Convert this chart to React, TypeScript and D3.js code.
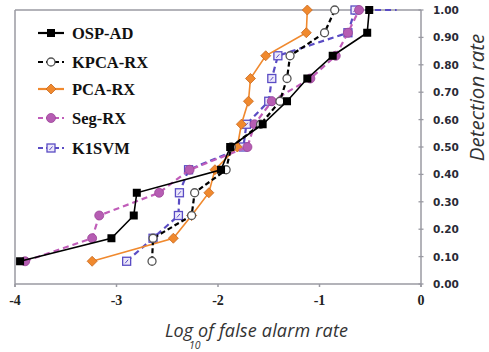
import React from "react";
import * as d3 from "d3";

const W = 489;
const H = 352;

// Detection-rate levels (shared by all detectors)
const detRate = [0.083, 0.167, 0.25, 0.333, 0.417, 0.5, 0.583, 0.667, 0.75, 0.833, 0.917, 1.0];

// log10 false alarm rate per detector
const ospAD = [-3.95, -3.05, -2.83, -2.8, -1.97, -1.88, -1.56, -1.32, -1.12, -0.87, -0.53, -0.51];
const kpcaRX = [-2.65, -2.64, -2.26, -2.23, -1.92, -1.87, -1.58, -1.39, -1.32, -1.29, -0.95, -0.85];
const pcaRX = [-3.24, -2.44, -2.26, -2.09, -2.03, -1.81, -1.77, -1.7, -1.68, -1.53, -1.13, -1.12];
const segRX = [-3.9, -3.24, -3.17, -2.58, -2.28, -1.71, -1.64, -1.47, -1.09, -0.84, -0.72, -0.61];
const k1svm = [-2.9, -2.64, -2.39, -2.38, -2.29, -1.75, -1.72, -1.5, -1.47, -1.41, -0.72, -0.65];
const k1svmTail = [-0.24, 1.0];

const xTicks = [-4, -3, -2, -1, 0];
const yTicks = [0, 0.1, 0.2, 0.3, 0.4, 0.5, 0.6, 0.7, 0.8, 0.9, 1.0];

const legendNames = ["OSP-AD", "KPCA-RX", "PCA-RX", "Seg-RX", "K1SVM"];

type Series = {
  name: string;
  xs: number[];
  color: string;
  dash?: string;
  marker: "square" | "circleOpen" | "diamond" | "circle" | "squareOpen";
  fill: string;
  stroke: string;
};

const series: Series[] = [
  { name: "OSP-AD", xs: ospAD, color: "#000000", marker: "square", fill: "#000000", stroke: "#000000" },
  { name: "KPCA-RX", xs: kpcaRX, color: "#000000", dash: "5,3", marker: "circleOpen", fill: "#ffffff", stroke: "#555555" },
  { name: "PCA-RX", xs: pcaRX, color: "#F0892E", marker: "diamond", fill: "#F0892E", stroke: "#C8681E" },
  { name: "Seg-RX", xs: segRX, color: "#C05DB9", dash: "6,4", marker: "circle", fill: "#B65DB3", stroke: "#9A4497" },
  { name: "K1SVM", xs: k1svm, color: "#5A4CC4", dash: "6,4", marker: "squareOpen", fill: "#ECE8FA", stroke: "#5A4CC4" },
];

function Marker({ s, x, y }: { s: Series; x: number; y: number }) {
  if (s.marker === "square")
    return <rect x={x - 4} y={y - 4} width={8} height={8} fill={s.fill} />;
  if (s.marker === "squareOpen")
    return (
      <g>
        <rect x={x - 4} y={y - 4} width={8} height={8} fill={s.fill} stroke={s.stroke} strokeWidth={1.3} />
        <line x1={x - 1.5} y1={y + 2} x2={x + 1.5} y2={y - 1.5} stroke={s.stroke} strokeWidth={1} />
      </g>
    );
  if (s.marker === "circleOpen")
    return <circle cx={x} cy={y} r={4} fill={s.fill} stroke={s.stroke} strokeWidth={1.3} />;
  if (s.marker === "circle")
    return <circle cx={x} cy={y} r={4.5} fill={s.fill} stroke={s.stroke} strokeWidth={0.8} />;
  return (
    <path
      d={`M${x},${y - 5}L${x + 5},${y}L${x},${y + 5}L${x - 5},${y}Z`}
      fill={s.fill}
      stroke={s.stroke}
      strokeWidth={0.8}
    />
  );
}

export default function App() {
  const x = d3.scaleLinear().domain([-4, 0]).range([15, 421]);
  const y = d3.scaleLinear().domain([0, 1]).range([284, 10]);
  const line = d3
    .line<[number, number]>()
    .x((d) => x(d[0]))
    .y((d) => y(d[1]));

  const drawOrder = [4, 2, 3, 1, 0];
  const legendY = [33, 62, 89, 118, 148];

  return (
    <svg
      width={W}
      height={H}
      style={{ position: "absolute", left: 0, top: 0, background: "#fff" }}
      fontFamily="'Open Sans', sans-serif"
    >
      <rect x={0} y={0} width={W} height={H} fill="#fff" />
      {/* frame */}
      <line x1={x(-4)} y1={y(1)} x2={x(0)} y2={y(1)} stroke="#9a9aa2" strokeWidth={1.5} />
      <line x1={x(-4)} y1={y(1)} x2={x(-4)} y2={y(0) + 3} stroke="#9a9aa2" strokeWidth={1.5} />
      <line x1={x(-4)} y1={y(0)} x2={x(0)} y2={y(0)} stroke="#9a9aa2" strokeWidth={1.5} />
      <line x1={x(0)} y1={y(1)} x2={x(0)} y2={y(0) + 3} stroke="#9a9aa2" strokeWidth={1.5} />
      {xTicks.map((t) => (
        <g key={t}>
          <line x1={x(t)} y1={y(0)} x2={x(t)} y2={y(0) + 3} stroke="#9a9aa2" strokeWidth={1.5} />
          <text
            x={x(t)}
            y={y(0) + 21}
            textAnchor="middle"
            fontFamily="'Liberation Serif', serif"
            fontWeight="bold"
            fontSize={14}
            fill="#222"
          >
            {t === 0 ? "0" : String(t)}
          </text>
        </g>
      ))}
      {yTicks.map((t) => (
        <g key={t}>
          <line x1={x(0) - 2.5} y1={y(t)} x2={x(0) + 2.5} y2={y(t)} stroke="#9a9aa2" strokeWidth={1.3} />
          <text
            x={433}
            y={y(t) + 4}
            fontFamily="'DejaVu Sans', sans-serif"
            fontWeight="bold"
            fontSize={10.5}
            fill="#2a2a35"
          >
            {t.toFixed(2)}
          </text>
        </g>
      ))}

      {/* series */}
      {drawOrder.map((i) => {
        const s = series[i];
        const pts: [number, number][] = s.xs.map((v, k) => [v, detRate[k]]);
        return (
          <g key={s.name}>
            {s.name === "K1SVM" && (
              <path
                d={line([pts[pts.length - 1], [k1svmTail[0], k1svmTail[1]]]) || ""}
                fill="none"
                stroke={s.color}
                strokeWidth={2}
                strokeDasharray={s.dash}
              />
            )}
            <path d={line(pts) || ""} fill="none" stroke={s.color} strokeWidth={s.dash ? 2.2 : 1.6} strokeDasharray={s.dash} />
            {pts.map((p, k) => (
              <Marker key={k} s={s} x={x(p[0])} y={y(p[1])} />
            ))}
          </g>
        );
      })}

      {/* legend */}
      {legendNames.map((name, i) => {
        const s = series.find((d) => d.name === name)!;
        const ly = legendY[i];
        return (
          <g key={name}>
            <line x1={38} y1={ly} x2={64} y2={ly} stroke={s.color} strokeWidth={2.2} strokeDasharray={s.dash ? "5,3" : undefined} />
            <Marker s={s} x={51} y={ly} />
            <text
              x={72}
              y={ly + 6}
              fontFamily="'Liberation Serif', serif"
              fontWeight="bold"
              fontSize={16.5}
              fill="#111"
            >
              {name}
            </text>
          </g>
        );
      })}

      {/* axis titles */}
      <text x={165} y={337} fontStyle="italic" fontSize={18} fill="#333" textLength={28} lengthAdjust="spacing">
        Log
      </text>
      <text x={189} y={349} fontStyle="italic" fontSize={10.5} fill="#333">
        10
      </text>
      <text x={198} y={337} fontStyle="italic" fontSize={18} fill="#333" textLength={150} lengthAdjust="spacing">
        of false alarm rate
      </text>
      <text
        transform={`translate(484,${(y(1) + 185) / 2}) rotate(-90)`}
        textAnchor="middle"
        fontStyle="italic"
        fontSize={20.5}
        fill="#333"
      >
        Detection rate
      </text>
    </svg>
  );
}
